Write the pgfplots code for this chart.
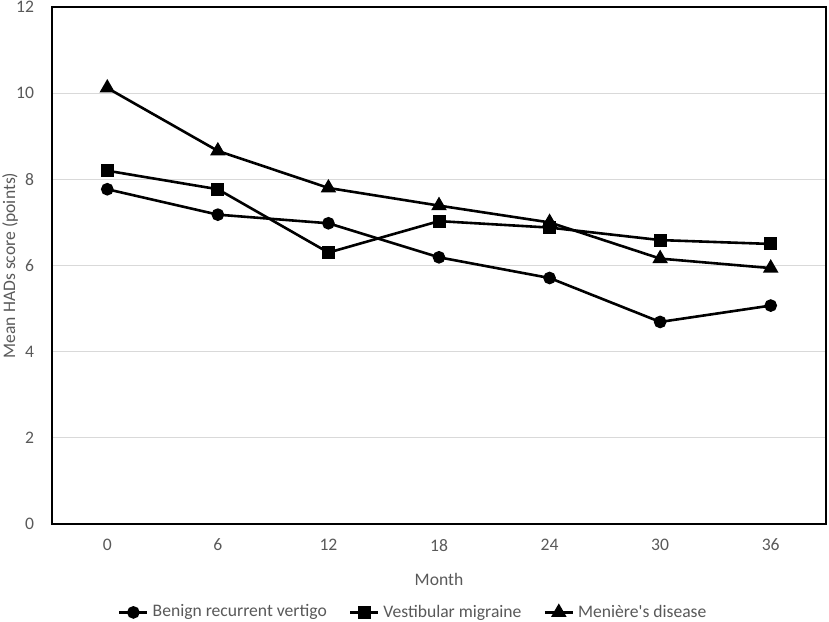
\documentclass[border=0pt]{standalone}
\usepackage{pgfplots}
\pgfplotsset{compat=1.18}
\usepackage{fontspec}
\setmainfont{Carlito}
\definecolor{txt}{HTML}{595959}
\definecolor{grd}{HTML}{D9D9D9}
\begin{document}
\begin{tikzpicture}
\begin{axis}[
  name=ax,
  scale only axis,
  width=387pt, height=258.5pt,
  xmin=-0.5, xmax=6.5, ymin=0, ymax=12,
  xtick={0,1,2,3,4,5,6},
  xticklabels={0,6,12,18,24,30,36},
  ytick={0,2,4,6,8,10,12},
  ymajorgrids, grid style={grd, line width=0.6pt},
  axis line style={black, line width=0.8pt},
  major tick length=0pt,
  tick label style={txt, font=\fontsize{8.8}{10}\selectfont},
  /pgf/number format/assume math mode=true,
  xticklabel style={yshift=-4pt},
  yticklabel style={xshift=-5.5pt},
  xlabel={Month}, ylabel={Mean HADs score (points)},
  label style={txt, font=\fontsize{8.8}{10}\selectfont},
  xlabel style={yshift=-4pt},
  ylabel style={at={(axis description cs:-0.054,0.5)}, anchor=center},
  legend style={at={(0.468,-0.171)}, anchor=center, draw=none, legend columns=3,
    font=\fontsize{8.8}{10}\selectfont, text=txt,
    /tikz/every even column/.append style={column sep=9pt}},
  legend image code/.code={
    \draw[#1, mark repeat=2, mark phase=2] plot coordinates {(0pt,0pt) (7pt,0pt) (14pt,0pt)};},
  every axis plot/.append style={black, line width=1.3pt, mark options={solid}},
]
\addplot[mark=*, mark size=2.5pt] coordinates {(0,7.77) (1,7.18) (2,6.98) (3,6.19) (4,5.71) (5,4.69) (6,5.07)};
\addlegendentry{Benign recurrent vertigo}
\addplot[mark=square*, mark size=2.6pt] coordinates {(0,8.20) (1,7.77) (2,6.30) (3,7.03) (4,6.88) (5,6.59) (6,6.50)};
\addlegendentry{Vestibular migraine}
\addplot[mark=triangle*, mark size=3.2pt] coordinates {(0,10.12) (1,8.66) (2,7.80) (3,7.39) (4,7.00) (5,6.16) (6,5.94)};
\addlegendentry{Meni\`ere\textquotesingle s disease}
\end{axis}
\pgfresetboundingbox
\path[use as bounding box] ([xshift=-26pt,yshift=-48.5pt]ax.south west) rectangle ([xshift=1.5pt,yshift=3.5pt]ax.north east);
\end{tikzpicture}
\end{document}
